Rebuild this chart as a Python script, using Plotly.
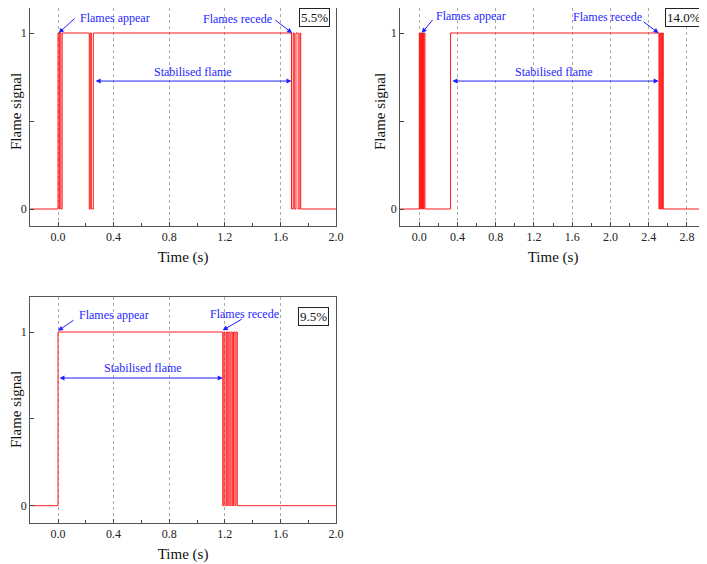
import plotly.graph_objects as go

# switching times of the flame signal (starts at 0, each time toggles 0<->1)
t_55 = [0.0, 0.008, 0.013, 0.021, 0.030,
        0.225, 0.232, 0.240, 0.254,
        1.680, 1.692, 1.700, 1.712, 1.728, 1.740, 1.746]
t_140 = [0.0, 0.004, 0.010, 0.015, 0.020, 0.025, 0.030, 0.035, 0.040, 0.045, 0.050, 0.059,
         0.327,
         2.508, 2.515, 2.522, 2.530, 2.537, 2.545, 2.553]
t_95 = [0.0,
        1.185, 1.193, 1.201, 1.211, 1.221, 1.229, 1.237, 1.245, 1.254, 1.263, 1.273, 1.281, 1.290]

x_ranges = [[-0.2, 2.0], [-0.2, 3.0], [-0.2, 2.0]]
labels = ["5.5%", "14.0%", "9.5%"]

# annotation positions (data units): appear text / arrow, recede text / arrow, stabilised
appear = [(0.144, 1.085, 0.13, 1.09, 0.005, 1.0),
          (0.153, 1.097, 0.153, 1.083, 0.025, 1.0),
          (0.137, 1.098, 0.122, 1.073, 0.0, 1.007)]
recede = [(1.291, 1.08, 1.554, 1.079, 1.684, 1.0),
          (1.966, 1.09, 2.33, 1.07, 2.504, 1.0),
          (1.34, 1.104, 1.333, 1.079, 1.185, 1.01)]
stable = [(0.973, 0.778, 0.26, 1.68, 0.727),
          (1.41, 0.778, 0.33, 2.505, 0.727),
          (0.611, 0.793, 0.0, 1.185, 0.735)]

FONT = "Liberation Serif"
BLUE = "#1f1fff"

# the page puts the figure 8px in from the top-left corner
OFF = 8
W, H = 707 - OFF, 564 - OFF


def px_x(p):
    return (p - OFF) / W


def px_y(p):
    return min(1.0, 1 - (p - OFF) / H)


def step(times, xmax):
    xs, ys = [x_ranges[0][0]], [0]
    s = 0
    for t in times:
        s = 1 - s
        xs.append(t)
        ys.append(s)
    xs.append(xmax)
    ys.append(s)
    return xs, ys


# panel boxes in page pixels: left, right, top, bottom, and pixel rows of y=0 / y=1
boxes = [(30.2, 336, 0, 226, 209, 33),
         (400.2, 706, 0, 226, 209, 33),
         (30.2, 336, 297, 522.7, 505.7, 332)]
# centre of the rotated y title, page pixels
ytitle_px = [(16, 112), (380, 112), (16, 410)]
signals = [t_55, t_140, t_95]

fig = go.Figure()
annos = []
for i in range(3):
    sx = "" if i == 0 else str(i + 1)
    l, r, t, b, p0, p1 = boxes[i]
    per = p0 - p1
    top_px = max(t, OFF)
    y_rng = [(p0 - b) / per, (p0 - top_px) / per]
    xs, ys = step(signals[i], x_ranges[i][1])
    fig.add_trace(go.Scatter(x=xs, y=ys, mode="lines", line=dict(color="#ff1a1a", width=1.0, shape="hv"),
                             xaxis="x" + sx, yaxis="y" + sx, showlegend=False))
    ax_common = dict(showline=True, linecolor="#555", linewidth=1, mirror=True, zeroline=False,
                     tickfont=dict(family=FONT, size=12, color="#222"), automargin=False)
    fig.layout["xaxis" + sx] = dict(domain=[px_x(l), px_x(r)], range=x_ranges[i], anchor="y" + sx,
                                   tick0=0, dtick=0.4, tickformat=".1f", ticks="inside", ticklen=4,
                                   showgrid=True, gridcolor="#aaa", griddash="dot", gridwidth=0.8,
                                   minor=dict(dtick=0.2, tick0=0, ticks="inside", ticklen=3, showgrid=False),
                                   title=dict(text="Time (s)", font=dict(family=FONT, size=15, color="#111"),
                                              standoff=8),
                                   **ax_common)
    fig.layout["yaxis" + sx] = dict(domain=[px_y(b), px_y(t)], range=y_rng, anchor="x" + sx,
                                   tickvals=[0, 0.5, 1], ticktext=["0", "", "1"], ticks="inside", ticklen=4,
                                   showgrid=False, **ax_common)
    xr, yr = "x" + sx, "y" + sx
    tx, ty = ytitle_px[i]
    annos.append(dict(x=px_x(tx), y=px_y(ty), xref="paper", yref="paper", text="Flame signal",
                      textangle=-90, xanchor="center", yanchor="middle", showarrow=False,
                      font=dict(family=FONT, size=15, color="#111")))
    tf = dict(family=FONT, size=12, color=BLUE)
    a = appear[i]
    annos.append(dict(x=a[0], y=a[1], xref=xr, yref=yr, text="Flames appear", showarrow=False,
                      xanchor="left", font=tf))
    annos.append(dict(x=a[4], y=a[5], ax=a[2], ay=a[3], xref=xr, yref=yr, axref=xr, ayref=yr, text="",
                      showarrow=True, arrowhead=2, arrowsize=1, arrowwidth=1, arrowcolor=BLUE))
    rc = recede[i]
    annos.append(dict(x=rc[0], y=rc[1], xref=xr, yref=yr, text="Flames recede", showarrow=False, font=tf))
    annos.append(dict(x=rc[4], y=rc[5], ax=rc[2], ay=rc[3], xref=xr, yref=yr, axref=xr, ayref=yr, text="",
                      showarrow=True, arrowhead=2, arrowsize=1, arrowwidth=1, arrowcolor=BLUE))
    s = stable[i]
    annos.append(dict(x=s[0], y=s[1], xref=xr, yref=yr, text="Stabilised flame", showarrow=False, font=tf))
    annos.append(dict(x=s[3], y=s[4], ax=s[2], ay=s[4], xref=xr, yref=yr, axref=xr, ayref=yr, text="",
                      showarrow=True, arrowhead=2, startarrowhead=2, arrowside="end+start",
                      arrowsize=1, startarrowsize=1, arrowwidth=1, arrowcolor=BLUE))
    # boxed concentration label, pixel corner (right, top)
    br, bt = [(330, 7), (703, 7), (329, 307)][i]
    annos.append(dict(x=px_x(br), y=px_y(max(bt, OFF)), xref="paper", yref="paper", text=labels[i],
                      showarrow=False, xanchor="right", yanchor="top", bordercolor="#222", borderwidth=1,
                      borderpad=1, bgcolor="white", font=dict(family=FONT, size=13, color="#111")))

fig.update_layout(width=W, height=H, margin=dict(l=0, r=0, t=0, b=0),
                  plot_bgcolor="white", paper_bgcolor="white", annotations=annos)
fig.write_html("out.html")
